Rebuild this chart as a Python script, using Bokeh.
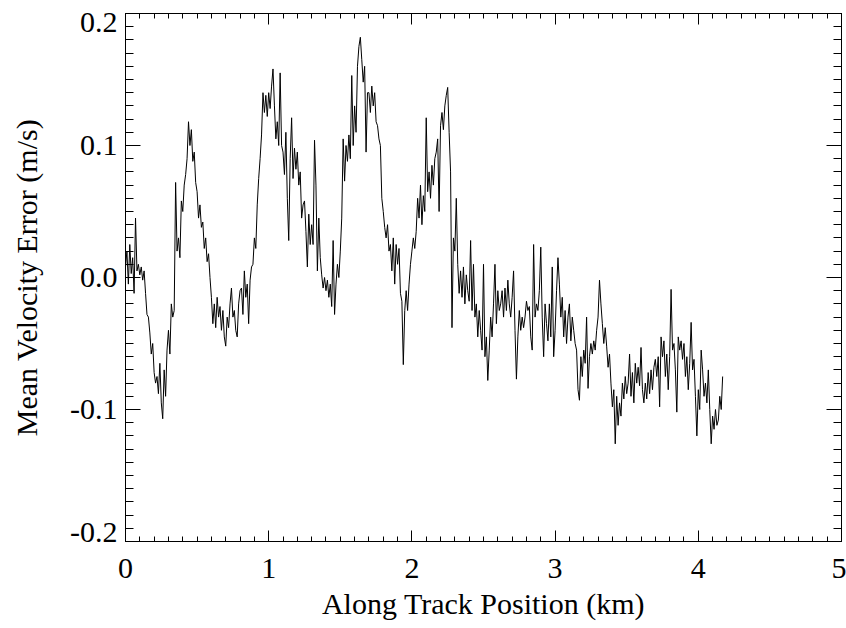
from bokeh.plotting import figure
from bokeh.models import (LinearAxis, SingleIntervalTicker, NumeralTickFormatter, Range1d,
                          CustomJSTickFormatter, ColumnDataSource)
from bokeh.core.properties import value
from bokeh.embed import file_html
from bokeh.resources import INLINE

# Along-track sample spacing (km) and mean velocity error (m/s)
STEP_KM = 0.01
mean_velocity_error = [
    0.008, 0.020, -0.005, 0.025, 0.003, 0.015, -0.012, 0.045, 0.005, 0.010,
    0.002, 0.008, -0.002, 0.005, -0.012, -0.028, -0.030, -0.042, -0.058, -0.050,
    -0.072, -0.080, -0.075, -0.088, -0.065, -0.095, -0.107, -0.070, -0.090, -0.055,
    -0.040, -0.058, -0.020, -0.030, -0.025, 0.072, 0.020, 0.030, 0.015, 0.058,
    0.050, 0.070, 0.078, 0.090, 0.118, 0.100, 0.112, 0.088, 0.095, 0.072,
    0.065, 0.045, 0.055, 0.038, 0.042, 0.022, 0.030, 0.012, 0.018, 0.000,
    -0.015, -0.035, -0.020, -0.038, -0.015, -0.030, -0.022, -0.040, -0.025, -0.045,
    -0.052, -0.030, -0.038, -0.020, -0.008, -0.030, -0.025, -0.040, -0.045, -0.020,
    -0.010, -0.008, -0.028, 0.005, -0.015, -0.005, -0.035, -0.002, 0.008, 0.010,
    0.030, 0.022, 0.055, 0.075, 0.090, 0.108, 0.140, 0.125, 0.138, 0.122,
    0.140, 0.128, 0.145, 0.158, 0.130, 0.105, 0.118, 0.100, 0.155, 0.100,
    0.095, 0.078, 0.110, 0.060, 0.028, 0.090, 0.121, 0.075, 0.098, 0.082,
    0.095, 0.070, 0.080, 0.045, 0.055, 0.058, 0.035, 0.008, 0.048, 0.025,
    0.040, 0.025, 0.104, 0.070, 0.005, 0.045, 0.015, 0.002, -0.008, 0.000,
    -0.010, -0.002, -0.015, -0.005, -0.022, 0.028, -0.028, -0.005, 0.010, 0.000,
    0.020, 0.045, 0.105, 0.073, 0.100, 0.088, 0.108, 0.090, 0.153, 0.100,
    0.130, 0.110, 0.160, 0.175, 0.182, 0.165, 0.148, 0.160, 0.095, 0.140,
    0.140, 0.125, 0.145, 0.130, 0.140, 0.118, 0.115, 0.105, 0.100, 0.060,
    0.050, 0.038, 0.030, 0.040, 0.020, 0.025, 0.005, 0.030, -0.005, 0.025,
    0.010, 0.022, -0.012, -0.018, -0.066, -0.025, -0.010, -0.025, -0.005, 0.010,
    0.020, 0.030, 0.022, 0.035, 0.060, 0.045, 0.070, 0.040, 0.062, 0.050,
    0.121, 0.065, 0.080, 0.060, 0.085, 0.070, 0.090, 0.095, 0.105, 0.050,
    0.115, 0.125, 0.112, 0.130, 0.138, 0.144, 0.110, 0.080, -0.038, 0.030,
    0.020, 0.060, 0.010, -0.012, 0.005, -0.015, 0.008, -0.020, 0.002, -0.010,
    -0.018, 0.028, -0.025, 0.010, -0.030, -0.020, -0.045, -0.025, -0.040, -0.055,
    0.010, -0.060, -0.045, -0.078, -0.055, -0.030, -0.045, -0.020, 0.010, -0.035,
    -0.010, -0.025, -0.020, -0.010, -0.030, -0.008, -0.025, -0.002, -0.020, -0.030,
    -0.015, 0.005, -0.040, -0.077, -0.045, -0.025, -0.040, -0.030, -0.038, -0.030,
    -0.018, -0.025, -0.022, -0.045, -0.055, 0.025, -0.030, -0.020, -0.025, -0.010,
    0.023, -0.030, -0.060, -0.020, -0.035, -0.048, -0.020, -0.045, 0.008, -0.060,
    -0.040, -0.010, 0.015, -0.005, -0.030, -0.015, -0.045, -0.025, -0.050, -0.030,
    -0.020, -0.048, -0.030, -0.040, -0.050, -0.055, -0.085, -0.093, -0.060, -0.075,
    -0.055, -0.065, -0.030, -0.084, -0.060, -0.050, -0.058, -0.048, -0.055, -0.040,
    -0.030, -0.002, -0.020, -0.035, -0.050, -0.038, -0.052, -0.068, -0.058, -0.080,
    -0.098, -0.085, -0.126, -0.090, -0.112, -0.095, -0.105, -0.080, -0.092, -0.075,
    -0.088, -0.080, -0.058, -0.090, -0.072, -0.095, -0.065, -0.080, -0.068, -0.082,
    -0.053, -0.085, -0.095, -0.080, -0.092, -0.072, -0.088, -0.070, -0.085, -0.068,
    -0.062, -0.075, -0.060, -0.098, -0.045, -0.060, -0.048, -0.075, -0.058, -0.085,
    -0.060, -0.009, -0.055, -0.050, -0.070, -0.102, -0.045, -0.055, -0.048, -0.062,
    -0.050, -0.075, -0.060, -0.085, -0.065, -0.034, -0.070, -0.062, -0.090, -0.120,
    -0.085, -0.100, -0.055, -0.070, -0.090, -0.080, -0.095, -0.070, -0.100, -0.126,
    -0.105, -0.115, -0.100, -0.112, -0.108, -0.090, -0.100, -0.075,
]
position_km = [round(i * STEP_KM, 4) for i in range(len(mean_velocity_error))]

X_RANGE = (0, 5)
Y_RANGE = (-0.2, 0.2)
X_TITLE = "Along Track Position (km)"
Y_TITLE = "Mean Velocity Error (m/s)"

# end labels of the y axis sit just inside the frame, as in the reference
y_end_values = [-0.2, 0.2]
y_end_labels = ["-0.2", "0.2"]
y_end_shift_px = [-9, 9]

FONT = "Liberation Serif"
TICK_FS = "30px"
TITLE_FS = "30px"

p = figure(width=846, height=628, output_backend="svg", toolbar_location=None,
           x_range=Range1d(*X_RANGE), y_range=Range1d(*Y_RANGE),
           x_axis_location=None, y_axis_location=None,
           min_border_left=125, min_border_right=5, min_border_top=13, min_border_bottom=87)
p.background_fill_color = "white"
p.border_fill_color = "white"
p.outline_line_color = "black"
p.outline_line_width = 1
p.xgrid.visible = False
p.ygrid.visible = False

p.line(position_km, mean_velocity_error, line_color="black", line_width=1)


def style_axis(ax, major_in, minor_in):
    ax.axis_line_color = "black"
    ax.major_tick_line_color = "black"
    ax.minor_tick_line_color = "black"
    ax.major_tick_in = major_in
    ax.major_tick_out = 0
    ax.minor_tick_in = minor_in
    ax.minor_tick_out = 0
    ax.major_label_text_font = FONT
    ax.major_label_text_color = "black"
    ax.major_label_text_font_size = TICK_FS
    ax.axis_label_text_font = FONT
    ax.axis_label_text_font_style = "normal"
    ax.axis_label_text_color = "black"
    ax.axis_label_text_font_size = TITLE_FS


xb = LinearAxis(ticker=SingleIntervalTicker(interval=1, num_minor_ticks=10),
                formatter=NumeralTickFormatter(format="0"), axis_label=X_TITLE)
style_axis(xb, 11, 5)
xb.major_label_standoff = 17
xb.axis_label_standoff = 6
p.add_layout(xb, "below")

# mirrored tick marks on the top and right edges (no labels)
xt = LinearAxis(ticker=SingleIntervalTicker(interval=1, num_minor_ticks=10),
                formatter=CustomJSTickFormatter(code="return ''"))
style_axis(xt, 11, 5)
xt.major_label_standoff = 0
p.add_layout(xt, "above")

# left axis: inner labels from the axis, end labels drawn just inside the frame below
yl = LinearAxis(ticker=SingleIntervalTicker(interval=0.1, num_minor_ticks=10),
                formatter=CustomJSTickFormatter(code="""
                    if (Math.abs(Math.abs(tick) - 0.2) < 1e-9) { return ''; }
                    if (Math.abs(tick) < 1e-9) { return '0.0'; }
                    return tick.toFixed(1);
                """),
                axis_label=Y_TITLE)
style_axis(yl, 15, 8)
yl.major_label_standoff = 8
yl.axis_label_standoff = 24
p.add_layout(yl, "left")

yr = LinearAxis(ticker=SingleIntervalTicker(interval=0.1, num_minor_ticks=10),
                formatter=CustomJSTickFormatter(code="return ''"))
style_axis(yr, 15, 8)
yr.major_label_standoff = 0
p.add_layout(yr, "right")

end_src = ColumnDataSource(dict(x=[X_RANGE[0]] * len(y_end_values), y=y_end_values,
                                text=y_end_labels, dy=y_end_shift_px))
p.text(x="x", y="y", text="text", source=end_src, x_offset=-8, y_offset="dy",
       text_align="right", text_baseline="middle", text_font=value(FONT),
       text_font_size=TICK_FS, text_color="black", level="overlay")

open("out.html", "w").write(file_html(p, INLINE))
